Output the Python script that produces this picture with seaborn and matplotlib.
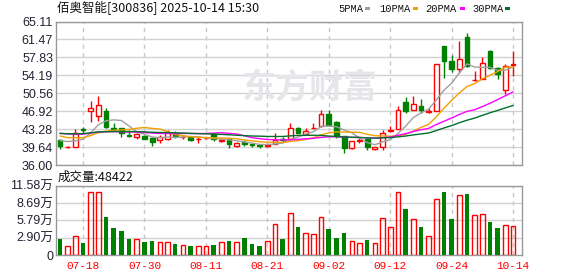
import numpy as np
import pandas as pd
import matplotlib
matplotlib.use("Agg")
import matplotlib.pyplot as plt
import seaborn as sns

# ---------------- data ----------------
dates = ["07-15", "07-16", "07-17", "07-18", "07-21", "07-22", "07-23", "07-24", "07-25", "07-28",
         "07-29", "07-30", "07-31", "08-01", "08-04", "08-05", "08-06", "08-07", "08-08", "08-11",
         "08-12", "08-13", "08-14", "08-15", "08-18", "08-19", "08-20", "08-21", "08-22", "08-25",
         "08-26", "08-27", "08-28", "08-29", "09-01", "09-02", "09-03", "09-04", "09-05", "09-08",
         "09-09", "09-10", "09-11", "09-12", "09-15", "09-16", "09-17", "09-18", "09-19", "09-22",
         "09-23", "09-24", "09-25", "09-26", "09-29", "09-30", "10-09", "10-10", "10-13", "10-14"]

open_ = [41.0, 39.6, 39.7, 43.3, 46.9, 46.0, 46.9, 43.6, 43.5, 42.1,
         41.7, 41.9, 41.4, 41.0, 41.2, 42.2, 41.6, 41.6, 41.2, 41.4,
         42.2, 40.9, 41.2, 39.9, 40.6, 40.3, 40.0, 39.9, 40.3, 41.3,
         41.2, 43.6, 42.2, 43.5, 43.9, 46.4, 44.8, 41.85, 39.4, 40.9,
         41.25, 39.2, 39.6, 42.9, 43.4, 48.7, 47.25, 47.9, 46.8, 47.0,
         60.05, 57.0, 55.5, 61.9, 53.2, 53.5, 59.2, 55.6, 51.15, 56.3]
close = [39.8, 39.7, 42.5, 43.1, 47.5, 48.1, 43.7, 43.4, 42.4, 41.95,
         42.2, 41.3, 40.6, 41.6, 42.7, 41.8, 41.7, 41.1, 41.3, 41.5,
         41.3, 41.1, 40.3, 40.4, 40.3, 40.1, 39.8, 40.1, 41.1, 41.1,
         43.6, 42.5, 42.9, 43.6, 46.4, 44.1, 41.85, 39.5, 40.85, 41.0,
         39.6, 39.6, 42.4, 43.05, 47.25, 46.95, 48.45, 47.1, 46.9, 56.45,
         57.05, 55.5, 57.55, 56.0, 53.25, 56.7, 55.6, 54.5, 56.1, 56.5]
high = [41.2, 39.9, 43.3, 43.8, 49.0, 49.9, 47.5, 44.6, 43.6, 43.0,
        42.5, 42.0, 41.7, 42.0, 43.1, 42.8, 42.0, 41.9, 41.6, 41.7,
        42.3, 41.4, 41.4, 40.6, 41.0, 40.5, 40.2, 40.4, 42.4, 41.7,
        44.6, 43.8, 43.5, 44.5, 47.25, 47.2, 45.0, 41.9, 40.9, 41.5,
        41.4, 39.7, 43.2, 43.9, 47.9, 49.8, 49.95, 49.3, 47.5, 56.5,
        60.1, 58.4, 61.1, 62.8, 55.0, 58.0, 59.3, 55.9, 56.4, 59.1]
low = [39.3, 39.5, 39.6, 42.4, 44.8, 45.0, 43.6, 43.0, 41.6, 41.7,
       41.2, 41.2, 39.9, 40.5, 41.0, 41.5, 41.2, 40.9, 40.4, 41.2,
       40.9, 40.6, 39.5, 39.7, 39.8, 39.6, 39.5, 39.7, 40.2, 40.6,
       41.0, 42.4, 42.1, 43.3, 43.8, 43.9, 41.5, 38.5, 39.3, 40.5,
       39.0, 39.1, 39.1, 42.7, 43.3, 46.45, 47.1, 46.6, 46.5, 46.9,
       53.7, 54.8, 54.7, 55.9, 53.1, 53.4, 55.4, 53.5, 50.5, 54.0]
# volume in 万 (10k) shares
volume = [2.67, 1.45, 3.1, 2.0, 10.6, 10.6, 6.35, 4.5, 4.0, 2.67,
          2.6, 2.17, 2.34, 2.1, 2.1, 1.84, 1.6, 1.5, 1.45, 1.45,
          1.67, 2.17, 2.34, 2.17, 2.84, 1.84, 1.5, 2.34, 5.12, 2.67,
          7.1, 4.68, 3.67, 3.45, 6.3, 4.34, 2.84, 3.67, 2.34, 2.0,
          2.5, 2.0, 6.1, 4.62, 10.6, 7.7, 5.96, 4.68, 3.17, 9.3,
          10.6, 6.0, 10.1, 10.2, 6.7, 6.85, 5.5, 4.5, 4.95, 4.8422]
# closes before the visible window (needed for the moving averages at the left edge)
close_before_window = [42.0, 42.6, 42.3, 42.8, 42.1, 42.5, 42.7, 42.2, 42.4, 42.4,
                       42.5, 43.4, 43.0, 42.8, 43.6, 43.1, 42.7, 42.9, 43.2, 42.3,
                       43.2, 42.6, 43.3, 42.9, 42.3, 40.6, 41.8, 41.5, 41.0]

ma_windows = [5, 10, 20, 30]
ma_labels = ["5PMA", "10PMA", "20PMA", "30PMA"]
ma_colors = ["#a0a0a0", "#f0a000", "#ff00ff", "#006f2e"]

price_ticks = [36.00, 39.64, 43.28, 46.92, 50.56, 54.19, 57.83, 61.47, 65.11]
vol_ticks = [0, 2.895, 5.79, 8.685, 11.58]
vol_ticklabels = ["0", "2.90万", "5.79万", "8.69万", "11.58万"]
date_tick_idx = [3, 11, 19, 27, 35, 43, 51, 59]

title_text = "佰奥智能[300836] 2025-10-14 15:30"
vol_title = "成交量:48422"
watermark = "东方财富"

# ---------------- derived ----------------
n = len(dates)
idx = np.arange(n)
o = np.array(open_); c = np.array(close); h = np.array(high); l = np.array(low)
up = c >= o
full_close = pd.Series(close_before_window + close)
mas = {w: full_close.rolling(w).mean().to_numpy()[-n:] for w in ma_windows}

df_vol = pd.DataFrame({"date": dates, "vol": volume, "up": up})

# ---------------- style ----------------
sns.set_style("white")
plt.rcParams["font.family"] = ["Liberation Sans", "Noto Sans CJK SC", "DejaVu Sans"]
RED = "#ff0000"
GREEN = "#008000"
GRID = "#d2d2d2"
FRAME = "#999999"

fig = plt.figure(figsize=(5.78, 2.76), dpi=100)
W, H = 578, 276
def rect(l_, t_, r_, b_):
    return [l_ / W, 1 - b_ / H, (r_ - l_) / W, (b_ - t_) / H]

ax = fig.add_axes(rect(56, 21.5, 522, 165))
axv = fig.add_axes(rect(56, 185.7, 522, 255))
xlim = (-0.52, 60.16)

# watermark
fig.text(310 / W, 1 - 88 / H, watermark, fontsize=24.5, fontweight="bold",
         color="#e6e6ea", ha="center", va="center",
         family=["Noto Sans CJK SC"], zorder=0)

# ---------- price panel ----------
ax.set_facecolor("none")
for t in price_ticks:
    ax.axhline(t, color=GRID, lw=1, zorder=0)
for i in date_tick_idx:
    ax.axvline(i, color="#c8c8c8", lw=1, ls=(0, (3, 3)), zorder=0)

ax.vlines(idx[up], l[up], h[up], color=RED, lw=1, zorder=2)
ax.vlines(idx[~up], l[~up], h[~up], color=GREEN, lw=1, zorder=2)
body_h = np.maximum(np.abs(c - o), 0.03)
body_b = np.minimum(o, c)
ax.bar(idx[up], body_h[up], bottom=body_b[up], width=0.62, facecolor="white",
       edgecolor=RED, linewidth=1, zorder=3)
ax.bar(idx[~up], body_h[~up], bottom=body_b[~up], width=0.62, facecolor=GREEN,
       edgecolor=GREEN, linewidth=1, zorder=3)

for w, col in zip(ma_windows, ma_colors):
    sns.lineplot(x=idx, y=mas[w], ax=ax, color=col, linewidth=1, zorder=4)

ax.set_xlim(*xlim)
ax.set_ylim(36.0, 65.11)
ax.set_yticks(price_ticks)
ax.set_yticklabels([f"{t:.2f}" for t in price_ticks], fontsize=9, color="#222233")
ax.set_xticks([])
ax.tick_params(axis="y", length=0, pad=2)
ax.set_xlabel(""); ax.set_ylabel("")
for s in ax.spines.values():
    s.set_color(FRAME); s.set_linewidth(1); s.set_visible(True)

# ---------- volume panel ----------
axv.set_facecolor("none")
for t in vol_ticks[1:]:
    axv.axhline(t, color=GRID, lw=1, zorder=0)
for i in date_tick_idx:
    axv.axvline(i, color="#c8c8c8", lw=1, ls=(0, (3, 3)), zorder=0)

sns.barplot(data=df_vol[df_vol["up"]], x="date", y="vol", order=dates, ax=axv,
            color=RED, fill=False, linewidth=1, width=0.6, errorbar=None,
            saturation=1, zorder=3)
sns.barplot(data=df_vol[~df_vol["up"]], x="date", y="vol", order=dates, ax=axv,
            color=GREEN, linewidth=0, width=0.6, errorbar=None,
            saturation=1, zorder=3)
axv.set_xlim(*xlim)
axv.set_ylim(0, 11.58)
axv.set_yticks(vol_ticks)
axv.set_yticklabels(vol_ticklabels, fontsize=9, color="#222233")
axv.set_xticks(date_tick_idx)
axv.set_xticklabels([dates[i] for i in date_tick_idx], fontsize=8, color=RED,
                    family=["Liberation Mono"])
axv.tick_params(axis="y", length=0, pad=2)
axv.tick_params(axis="x", length=0, pad=4)
axv.set_xlabel(""); axv.set_ylabel("")
for s in axv.spines.values():
    s.set_color(FRAME); s.set_linewidth(1); s.set_visible(True)

# ---------- texts ----------
fig.text(57 / W, 1 - 8.5 / H, title_text, fontsize=9, color="#111111",
         ha="left", va="center", family=["Noto Sans CJK SC", "DejaVu Sans"])
fig.text(58 / W, 1 - 177 / H, vol_title, fontsize=9, color="#111111",
         ha="left", va="center", family=["Noto Sans CJK SC", "DejaVu Sans"])

legend_x = [(338, 365), (379, 413), (425, 460), (472, 505)]
for (tx, sx), lab, col in zip(legend_x, ma_labels, ma_colors):
    fig.text(tx / W, 1 - 8.5 / H, lab, fontsize=7.5, color="#111111",
             ha="left", va="center", family=["Liberation Mono"])
    fig.patches.append(matplotlib.patches.Rectangle(
        (sx / W, 1 - 10 / H), 5 / W, 3 / H, transform=fig.transFigure,
        facecolor=col, edgecolor="none"))

fig.savefig("out.png", dpi=100)
